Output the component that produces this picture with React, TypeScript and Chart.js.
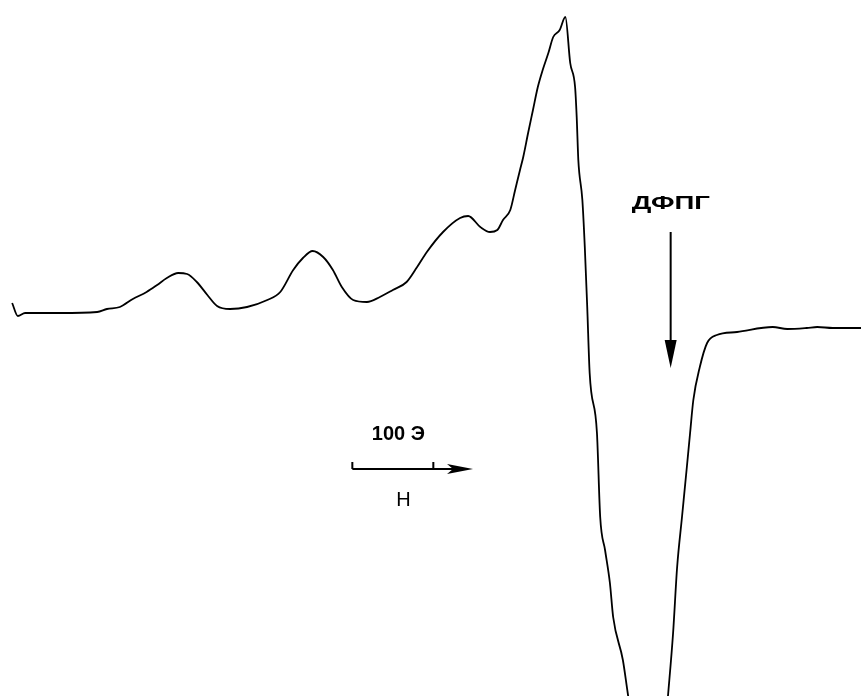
import React, { useEffect, useRef } from "react";
import { Chart, registerables } from "chart.js";

Chart.register(...registerables);

// Magnetic field H (Oe, relative) and EPR first-derivative signal (arb. units)
const fieldOe: number[] = [
  15, 22, 31, 74, 120, 132, 148, 164, 181, 194, 206, 220, 231, 243, 256, 268, 284, 305, 330, 346,
  362, 374, 386, 399, 411, 422, 436, 453, 469, 485, 502, 515, 527, 547, 568, 578, 593, 605, 614, 621,
  630, 636, 642, 646, 652, 658, 664, 670, 677, 683, 691, 698, 704, 710, 712, 714, 719, 722, 725, 728,
  737, 741, 747, 753, 757, 769, 775, 807, 825, 831, 836, 842, 848, 852, 856, 864, 873, 885, 910, 954,
  972, 996, 1009, 1028, 1063,
];
const signal: number[] = [
  9, -4, -1, -1, 0, 3, 5, 13, 20, 27, 34, 39, 38, 30, 17, 6, 3, 5, 12, 20,
  42, 54, 61, 55, 42, 25, 12, 10, 15, 22, 30, 45, 60, 80, 94, 96, 85, 80, 82, 92,
  102, 122, 142, 155, 179, 202, 225, 242, 259, 275, 282, 295, 249, 225, 195, 152, 112, 65, 5, -61,
  -121, -205, -238, -271, -305, -348, -381, -548, -381, -321, -255, -205, -155, -121, -88, -55, -31, -23, -20, -15,
  -17, -16, -15, -16, -16,
];

// Annotation content
const dpphLabel = "ДФПГ";
const dpphField = 828; // Oe, reference marker position
const scaleLabel = "100 Э";
const scaleStart = 435; // Oe
const scaleLength = 100; // Oe
const fieldLabel = "Н";

const X_MIN = 0;
const X_MAX = 1063;
const Y_MIN = -384;
const Y_MAX = 312;

const annotationPlugin = {
  id: "eprAnnotations",
  afterDatasetsDraw(chart: any) {
    const ctx = chart.ctx as CanvasRenderingContext2D;
    const xs = chart.scales.x;
    const ys = chart.scales.y;
    ctx.save();
    ctx.fillStyle = "#000";
    ctx.strokeStyle = "#000";

    // DPPH marker
    const ax = xs.getPixelForValue(dpphField);
    const aTop = ys.getPixelForValue(80);
    const aBot = ys.getPixelForValue(-56);
    ctx.save();
    ctx.font = "bold 19px 'Liberation Sans', Arial, sans-serif";
    ctx.textAlign = "left";
    ctx.textBaseline = "alphabetic";
    ctx.translate(xs.getPixelForValue(780), ys.getPixelForValue(103));
    ctx.scale(1.45, 1);
    ctx.fillText(dpphLabel, 0, 0);
    ctx.restore();
    ctx.lineWidth = 2;
    ctx.beginPath();
    ctx.moveTo(ax, aTop);
    ctx.lineTo(ax, aBot - 20);
    ctx.stroke();
    ctx.beginPath();
    ctx.moveTo(ax - 6, aBot - 28);
    ctx.lineTo(ax + 6, aBot - 28);
    ctx.lineTo(ax, aBot);
    ctx.closePath();
    ctx.fill();

    // Scale bar
    const sy = ys.getPixelForValue(-157);
    const s0 = xs.getPixelForValue(scaleStart);
    const s1 = xs.getPixelForValue(scaleStart + scaleLength);
    const sEnd = xs.getPixelForValue(scaleStart + 149);
    ctx.lineWidth = 2;
    ctx.beginPath();
    ctx.moveTo(s0, sy);
    ctx.lineTo(sEnd - 18, sy);
    ctx.moveTo(s0, sy);
    ctx.lineTo(s0, sy - 7);
    ctx.moveTo(s1, sy);
    ctx.lineTo(s1, sy - 7);
    ctx.stroke();
    ctx.beginPath();
    ctx.moveTo(sEnd - 26, sy - 5);
    ctx.lineTo(sEnd, sy);
    ctx.lineTo(sEnd - 26, sy + 5);
    ctx.lineTo(sEnd - 20, sy);
    ctx.closePath();
    ctx.fill();

    ctx.font = "bold 20px 'Liberation Sans', Arial, sans-serif";
    ctx.textAlign = "left";
    ctx.textBaseline = "alphabetic";
    ctx.fillText(scaleLabel, xs.getPixelForValue(459), ys.getPixelForValue(-128));
    ctx.font = "20px 'Liberation Sans', Arial, sans-serif";
    ctx.textAlign = "center";
    ctx.textBaseline = "middle";
    ctx.fillText(fieldLabel, xs.getPixelForValue(498), ys.getPixelForValue(-188));
    ctx.restore();
  },
};

export default function App() {
  const canvasRef = useRef<HTMLCanvasElement | null>(null);

  useEffect(() => {
    if (!canvasRef.current) return;
    const points = fieldOe.map((h, i) => ({ x: h, y: signal[i] }));
    const chart = new Chart(canvasRef.current, {
      type: "line",
      data: {
        datasets: [
          {
            data: points,
            borderColor: "#000",
            borderWidth: 1.8,
            pointRadius: 0,
            fill: false,
            cubicInterpolationMode: "monotone",
          },
        ],
      },
      options: {
        responsive: false,
        animation: false,
        layout: { padding: 0 },
        plugins: { legend: { display: false }, tooltip: { enabled: false } },
        scales: {
          x: { type: "linear", display: false, min: X_MIN, max: X_MAX },
          y: { type: "linear", display: false, min: Y_MIN, max: Y_MAX },
        },
      },
      plugins: [annotationPlugin],
    } as any);
    return () => chart.destroy();
  }, []);

  return (
    <div style={{ position: "absolute", left: 0, top: 0, width: 861, height: 696, background: "#fff" }}>
      <canvas ref={canvasRef} width={861} height={696} />
    </div>
  );
}
